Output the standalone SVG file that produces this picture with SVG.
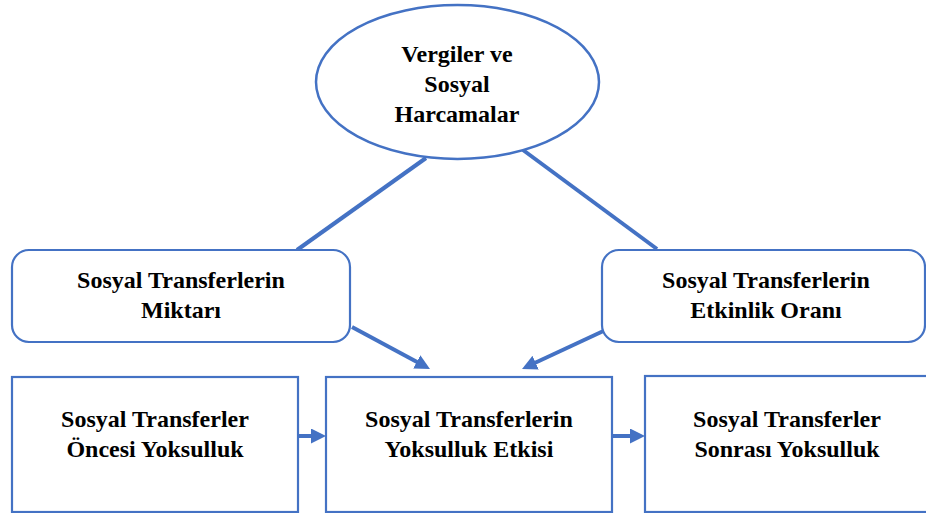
<svg xmlns="http://www.w3.org/2000/svg" width="926" height="513" viewBox="0 0 926 513">
<style>
.shape{fill:#fff;stroke:#4472C4;stroke-width:2.2}
.ell{fill:#fff;stroke:#4472C4;stroke-width:2.5}
.conn{stroke:#4472C4;stroke-width:4;fill:none}
.arr{stroke:#4472C4;stroke-width:4;fill:none;marker-end:url(#ah)}
text{font-family:"Liberation Serif","Times New Roman",serif;font-weight:bold;font-size:24px;fill:#000;text-anchor:middle}
</style>
<defs>
<marker id="ah" markerUnits="userSpaceOnUse" markerWidth="15" markerHeight="15" refX="4" refY="7.5" orient="auto">
<path d="M0,0 L15,7.5 L0,15 z" fill="#4472C4"/>
</marker>
</defs>
<rect width="926" height="513" fill="#fff"/>
<g id="connectors">
<line class="conn" x1="426" y1="158" x2="297" y2="250"/>
<line class="conn" x1="523" y1="150" x2="657" y2="249"/>
<line class="arr" x1="352" y1="327" x2="420.3" y2="363.8"/>
<line class="arr" x1="612" y1="327" x2="532" y2="364.3"/>
<line class="arr" x1="298" y1="436" x2="315" y2="436"/>
<line class="arr" x1="612" y1="436" x2="634" y2="436"/>
</g>
<g id="vergiler">
<ellipse class="ell" cx="457.5" cy="82" rx="141.5" ry="77"/>
<text x="457" y="62">Vergiler ve</text>
<text x="457" y="92">Sosyal</text>
<text x="457" y="122">Harcamalar</text>
</g>
<g id="miktari">
<rect class="shape" x="12" y="250" width="338" height="92" rx="17"/>
<text x="181" y="288">Sosyal Transferlerin</text>
<text x="181" y="318">Miktarı</text>
</g>
<g id="etkinlik">
<rect class="shape" x="602" y="250" width="323" height="92" rx="17"/>
<text x="766" y="288">Sosyal Transferlerin</text>
<text x="766" y="318">Etkinlik Oranı</text>
</g>
<g id="oncesi">
<rect class="shape" x="12" y="377" width="286" height="135"/>
<text x="155" y="427">Sosyal Transferler</text>
<text x="155" y="457">Öncesi Yoksulluk</text>
</g>
<g id="etkisi">
<rect class="shape" x="326" y="377" width="286" height="135"/>
<text x="469" y="427">Sosyal Transferlerin</text>
<text x="469" y="457">Yoksulluk Etkisi</text>
</g>
<g id="sonrasi">
<rect class="shape" x="645" y="376" width="290" height="136"/>
<text x="787" y="427">Sosyal Transferler</text>
<text x="787" y="457">Sonrası Yoksulluk</text>
</g>
</svg>
